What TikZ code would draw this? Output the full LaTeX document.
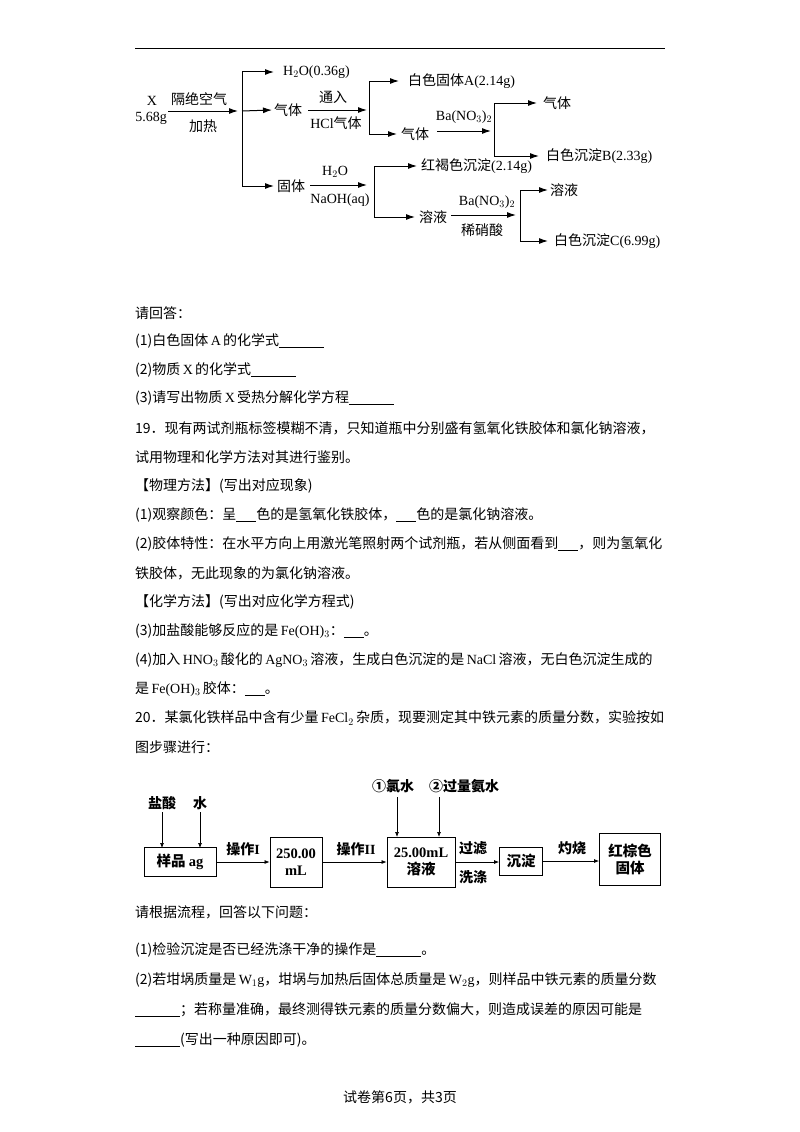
\documentclass[tikz,border=0pt]{standalone}
\usepackage{fontspec}
\setmainfont{Noto Sans CJK SC}
\newfontfamily\enf{Liberation Serif}
\newcommand\en[1]{{\enf #1}}
\newcommand\blank[1]{\underline{\hspace{#1}}}
\usetikzlibrary{arrows.meta}
\begin{document}
\begin{tikzpicture}[x=1pt,y=-1pt,
  every node/.style={inner sep=0pt,font=\fontsize{14}{16}\selectfont},
  arr/.style={-{Latex[length=9pt,width=6pt]},line width=1pt},
  ln/.style={line width=1pt},
  tx/.style={anchor=west},
  bx/.style={draw,line width=0.9pt,align=center,font=\fontsize{14.5}{17}\selectfont\bfseries},
  tarr/.style={-{Latex[length=5pt,width=4pt]},line width=0.7pt}]
\useasboundingbox[fill=white] (0,0) rectangle (800,1132);
\draw[line width=1pt] (135,49) -- (665,49);
% ---- diagram 1
\node (X) at (152,101) {\en{X}};
\node (Xm) at (151,118) {\en{5.68g}};
\coordinate (s0) at (168,111);
\coordinate (j0) at (242,111);
\draw[arr] (s0) -- (238,111);
\node at (199,99) {隔绝空气};
\node at (203,126) {加热};
\coordinate (j0t) at (242,72);
\coordinate (j0b) at (242,186);
\draw[ln] (j0t) -- (j0b);
\node[tx] (h2o) at (283,72) {\en{H$_2$O(0.36g)}};
\node[tx] (g1) at (274,110) {气体};
\node[tx] (s1) at (277,186) {固体};
\draw[arr] (j0t) -- (274,72);
\draw[arr] (j0) -- (272,110);
\draw[arr] (j0b) -- (274,186);
% gas branch
\draw[arr] (g1.east) ++(6,0) coordinate (g1e) -- (367,110);
\node at (333,97) {通入};
\node at (336,123) {\en{HCl}气体};
\coordinate (j1t) at (369,81); \coordinate (j1b) at (369,134);
\draw[ln] (j1t) -- (j1b);
\draw[arr] (j1t) -- (399,81);
\node[tx] (A) at (408,81) {白色固体\en{A(2.14g)}};
\draw[arr] (j1b) -- (397,134);
\node[tx] (g2) at (401,134) {气体};
\draw[arr] (437,131) -- (491,131);
\node at (464,117) {\en{Ba(NO$_3$)$_2$}};
\coordinate (j2t) at (494,103); \coordinate (j2b) at (494,156);
\draw[ln] (j2t) -- (j2b);
\draw[arr] (j2t) -- (537,103);
\node[tx] (g3) at (543,103) {气体};
\draw[arr] (j2b) -- (539,156);
\node[tx] (B) at (546,156) {白色沉淀\en{B(2.33g)}};
% solid branch
\draw[arr] (310,185) -- (367,185);
\node at (335,172) {\en{H$_2$O}};
\node at (340,200) {\en{NaOH(aq)}};
\coordinate (j3t) at (374,166); \coordinate (j3b) at (374,217);
\draw[ln] (j3t) -- (j3b);
\draw[arr] (j3t) -- (417,166);
\node[tx] (R) at (421,166) {红褐色沉淀\en{(2.14g)}};
\draw[arr] (j3b) -- (415,217);
\node[tx] (sol) at (419,217) {溶液};
\draw[arr] (451,215) -- (516,215);
\node at (487,202) {\en{Ba(NO$_3$)$_2$}};
\node at (482,230) {稀硝酸};
\coordinate (j4t) at (520,190); \coordinate (j4b) at (520,241);
\draw[ln] (j4t) -- (j4b);
\draw[arr] (j4t) -- (548,190);
\node[tx] (sol2) at (550,190) {溶液};
\draw[arr] (j4b) -- (548,241);
\node[tx] (C) at (554,241) {白色沉淀\en{C(6.99g)}};
% ---- body text
\begin{scope}[every node/.style={anchor=west,inner sep=0pt,font=\fontsize{14}{16}\selectfont}]
\node at (135,313) {请回答：};
\node at (135,341) {(1)白色固体\,\en{A}\,的化学式\blank{45pt}};
\node at (135,370) {(2)物质\,\en{X}\,的化学式\blank{45pt}};
\node at (135,398) {(3)请写出物质\,\en{X}\,受热分解化学方程\blank{45pt}};
\node at (135,428) {19．现有两试剂瓶标签模糊不清，只知道瓶中分别盛有氢氧化铁胶体和氯化钠溶液，};
\node at (135,457) {试用物理和化学方法对其进行鉴别。};
\node at (135,486) {【物理方法】(写出对应现象)};
\node at (135,515) {(1)观察颜色：呈\blank{20pt}色的是氢氧化铁胶体，\blank{20pt}色的是氯化钠溶液。};
\node at (135,544) {(2)胶体特性：在水平方向上用激光笔照射两个试剂瓶，若从侧面看到\blank{20pt}，则为氢氧化};
\node at (135,573) {铁胶体，无此现象的为氯化钠溶液。};
\node at (135,602) {【化学方法】(写出对应化学方程式)};
\node at (135,631) {(3)加盐酸能够反应的是\,\en{Fe(OH)$_3$}：\blank{20pt}。};
\node at (135,660) {(4)加入\,\en{HNO$_3$}\,酸化的\,\en{AgNO$_3$}\,溶液，生成白色沉淀的是\,\en{NaCl}\,溶液，无白色沉淀生成的};
\node at (135,689) {是\,\en{Fe(OH)$_3$}\,胶体：\blank{20pt}。};
\node at (135,718) {20．某氯化铁样品中含有少量\,\en{FeCl$_2$}\,杂质，现要测定其中铁元素的质量分数，实验按如};
\node at (135,747) {图步骤进行：};
\node at (135,912) {请根据流程，回答以下问题：};
\node at (135,950) {(1)检验沉淀是否已经洗涤干净的操作是\blank{45pt}。};
\node at (135,980) {(2)若坩埚质量是\,\en{W$_1$g}，坩埚与加热后固体总质量是\,\en{W$_2$g}，则样品中铁元素的质量分数};
\node at (135,1010) {\blank{45pt}；若称量准确，最终测得铁元素的质量分数偏大，则造成误差的原因可能是};
\node at (135,1040) {\blank{45pt}(写出一种原因即可)。};
\end{scope}
\node at (400,1097) {试卷第6页，共3页};
% ---- diagram 2
\begin{scope}[every node/.style={inner sep=0pt,font=\fontsize{14}{16}\selectfont\bfseries}]
\node[bx,minimum width=72pt,minimum height=29pt] (b1) at (180,862) {样品\ \en{ag}};
\node[bx,minimum width=52pt,minimum height=50pt] (b2) at (296,862) {\en{250.00}\\\en{mL}};
\node[bx,minimum width=68pt,minimum height=50pt] (b3) at (421,862) {\en{25.00mL}\\溶液};
\node[bx,minimum width=43pt,minimum height=28pt] (b4) at (521,861) {沉淀};
\node[bx,minimum width=61pt,minimum height=52pt] (b5) at (630,859) {红棕色\\固体};
\node (hcl) at (162,803) {盐酸};
\node (w) at (200,803) {水};
\node (cl) at (393,786) {①氯水};
\node (nh) at (464,786) {②过量氨水};
\draw[tarr] (162,812) -- (162,848);
\draw[tarr] (200,812) -- (200,848);
\draw[tarr] (397,797) -- (397,837);
\draw[tarr] (439,797) -- (439,837);
\draw[tarr] (b1.east) -- (b1.east -| b2.west);
\draw[tarr] (b2.east) -- (b2.east -| b3.west);
\draw[tarr] (b3.east) -- (b3.east -| b4.west);
\draw[tarr] (b4.east) -- (b4.east -| b5.west);
\node at (243,849) {操作\en{I}};
\node at (356,849) {操作\en{II}};
\node at (473,848) {过滤};
\node at (473,877) {洗涤};
\node at (572,848) {灼烧};
\end{scope}
\end{tikzpicture}
\end{document}
